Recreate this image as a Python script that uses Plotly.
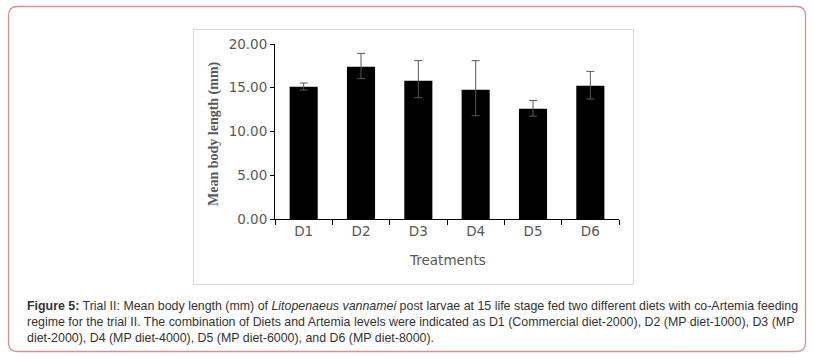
import plotly.graph_objects as go

categories = ["D1", "D2", "D3", "D4", "D5", "D6"]
mean_length = [15.12, 17.41, 15.81, 14.78, 12.60, 15.23]
err_plus = [0.42, 1.52, 2.29, 3.32, 0.95, 1.64]
err_minus = [0.38, 1.37, 1.95, 2.98, 0.84, 1.52]
y_ticks = [0, 5, 10, 15, 20]

W, H = 813, 358
L, R, T, B = 275, 194, 44, 139
PW, PH = W - L - R, H - T - B


def px(x):
    return (x - L) / PW


def py(y):
    return (H - B - y) / PH


fig = go.Figure()
fig.add_trace(go.Bar(
    x=categories, y=mean_length,
    marker=dict(color="black", line=dict(width=0)),
    error_y=dict(type="data", symmetric=False, array=err_plus, arrayminus=err_minus,
                 color="#595959", thickness=1, width=4),
    width=0.49,
))

tick_font = dict(family="DejaVu Sans", size=13.5, color="#595959")

fig.update_layout(
    width=W, height=H, autosize=False,
    margin=dict(l=L, r=R, t=T, b=B, pad=0),
    paper_bgcolor="white", plot_bgcolor="white",
    showlegend=False,
    xaxis=dict(showline=True, linecolor="black", linewidth=1, ticks="outside",
               tickson="boundaries", ticklen=5, tickcolor="black", tickfont=tick_font,
               showgrid=False, zeroline=False, fixedrange=True),
    yaxis=dict(range=[0, 20], tickvals=y_ticks, tickformat=".2f", showline=True,
               linecolor="black", linewidth=1, ticks="outside", ticklen=4,
               tickcolor="black", tickfont=tick_font, showgrid=False, zeroline=False,
               fixedrange=True),
)


def rounded_path(x0, y0, x1, y1, r):
    pts = []
    pts.append(f"M {px(x0 + r)},{py(y0)}")
    pts.append(f"L {px(x1 - r)},{py(y0)}")
    pts.append(f"Q {px(x1)},{py(y0)} {px(x1)},{py(y0 + r)}")
    pts.append(f"L {px(x1)},{py(y1 - r)}")
    pts.append(f"Q {px(x1)},{py(y1)} {px(x1 - r)},{py(y1)}")
    pts.append(f"L {px(x0 + r)},{py(y1)}")
    pts.append(f"Q {px(x0)},{py(y1)} {px(x0)},{py(y1 - r)}")
    pts.append(f"L {px(x0)},{py(y0 + r)}")
    pts.append(f"Q {px(x0)},{py(y0)} {px(x0 + r)},{py(y0)}")
    pts.append("Z")
    return " ".join(pts)


fig.add_shape(type="path", xref="paper", yref="paper",
              path=rounded_path(8.5, 6.5, 805.5, 351.5, 9),
              line=dict(color="#d5928e", width=1.3), layer="below")
fig.add_shape(type="rect", xref="paper", yref="paper",
              x0=px(193.5), x1=px(633.5), y0=py(29.5), y1=py(284.5),
              line=dict(color="#d9d9d9", width=1), layer="below")

# axis titles
fig.add_annotation(xref="paper", yref="paper", x=px(214), y=py(134),
                   text="<b>Mean body length (mm)</b>", textangle=-90, showarrow=False,
                   font=dict(family="Liberation Serif", size=14, color="#595959"),
                   xanchor="center", yanchor="middle")
fig.add_annotation(xref="paper", yref="paper", x=px(447), y=py(260),
                   text="Treatments", showarrow=False, font=tick_font,
                   xanchor="center", yanchor="middle")

cap_font = dict(family="Liberation Sans", size=12.4, color="#333333")
caption_lines = [
    "<b>Figure 5:</b> Trial II: Mean body length (mm) of <i>Litopenaeus vannamei</i> post larvae at 15 life stage fed two different diets with co-Artemia feeding",
    "regime for the trial II. The combination of Diets and Artemia levels were indicated as D1 (Commercial diet-2000), D2 (MP diet-1000), D3 (MP",
    "diet-2000), D4 (MP diet-4000), D5 (MP diet-6000), and D6 (MP diet-8000).",
]
for i, line in enumerate(caption_lines):
    fig.add_annotation(xref="paper", yref="paper", x=px(25), y=py(306 + 16 * i),
                       text=line, showarrow=False, font=cap_font,
                       xanchor="left", yanchor="middle", align="left")

fig.write_html("out.html", config={"displayModeBar": False},
               post_script="document.body.style.margin='0';document.body.style.overflow='hidden';")
